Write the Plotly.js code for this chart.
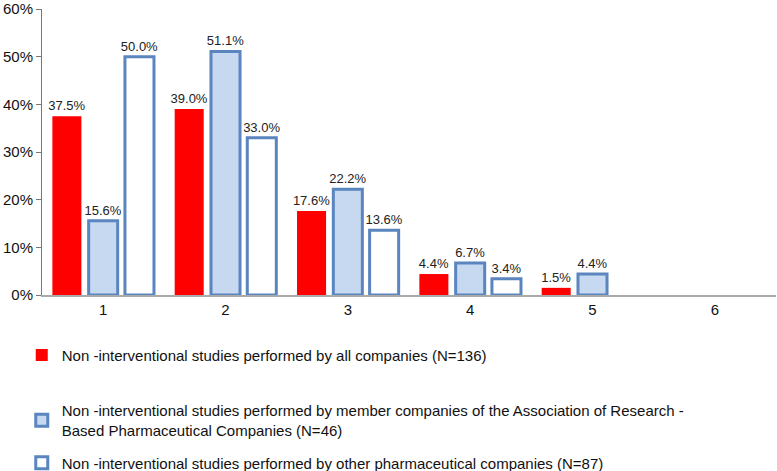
<!DOCTYPE html>
<html>
<head>
<meta charset="utf-8">
<script src="https://cdn.plot.ly/plotly-3.0.1.min.js"></script>
<style>
    html, body { margin: 0; padding: 0; background: #fff; }
    #chart { width: 777px; height: 471px; }
</style>
</head>
<body>
<div id="chart"></div>
<script>
const categories = ['1', '2', '3', '4', '5', '6'];
const allCompanies = [37.5, 39.0, 17.6, 4.4, 1.5, null];
const memberCompanies = [15.6, 51.1, 22.2, 6.7, 4.4, null];
const otherCompanies = [50.0, 33.0, 13.6, 3.4, null, null];

const names = [
    'Non -interventional studies performed by all companies (N=136)',
    'Non -interventional studies performed by member companies of the Association of Research -<br>Based Pharmaceutical Companies (N=46)',
    'Non -interventional studies performed by other pharmaceutical companies (N=87)'
];

const fontFamily = 'Liberation Sans, Arial, Helvetica, sans-serif';
const outline = '#5a85bf';

const makeBar = (values, name, fill, lineWidth, legendId) => ({
    type: 'bar',
    x: categories,
    y: values,
    name: name,
    legend: legendId,
    marker: {
        color: fill,
        line: { color: outline, width: lineWidth }
    },
    texttemplate: '%{y:.1f}%',
    textposition: 'outside',
    constraintext: 'none',
    cliponaxis: false,
    textfont: { family: fontFamily, size: 13, color: '#222' },
    hoverinfo: 'skip'
});

const traces = [
    makeBar(allCompanies, names[0], '#ff0000', 0, 'legend'),
    makeBar(memberCompanies, names[1], '#c6d9f0', 3, 'legend2'),
    makeBar(otherCompanies, names[2], '#ffffff', 3, 'legend3')
];

const legendBase = (y) => ({
    x: 0.028,
    xref: 'container',
    y: y,
    yref: 'container',
    xanchor: 'left',
    yanchor: 'middle',
    bgcolor: 'rgba(0,0,0,0)',
    font: { family: fontFamily, size: 15, color: '#111' },
    itemwidth: 30
});

const layout = {
    width: 777,
    height: 471,
    margin: { l: 42, r: 1, t: 9, b: 176, autoexpand: false },
    paper_bgcolor: '#fff',
    plot_bgcolor: '#fff',
    font: { family: fontFamily, color: '#111' },
    barmode: 'group',
    bargap: 0.11,
    bargroupgap: 0.2,
    showlegend: true,
    legend: legendBase(0.246),
    legend2: legendBase(0.108),
    legend3: legendBase(0.017),
    xaxis: {
        type: 'category',
        showline: true,
        linecolor: '#aaaaaa',
        linewidth: 2,
        showgrid: false,
        zeroline: false,
        ticks: '',
        tickfont: { family: fontFamily, size: 15, color: '#111' }
    },
    yaxis: {
        range: [0, 60],
        dtick: 10,
        ticksuffix: '%',
        showline: true,
        linecolor: '#777777',
        linewidth: 1,
        ticks: 'outside',
        ticklen: 5,
        tickcolor: '#777777',
        showgrid: false,
        zeroline: false,
        tickfont: { family: fontFamily, size: 15, color: '#111' }
    }
};

Plotly.newPlot('chart', traces, layout, { displayModeBar: false, staticPlot: true });
</script>
</body>
</html>
